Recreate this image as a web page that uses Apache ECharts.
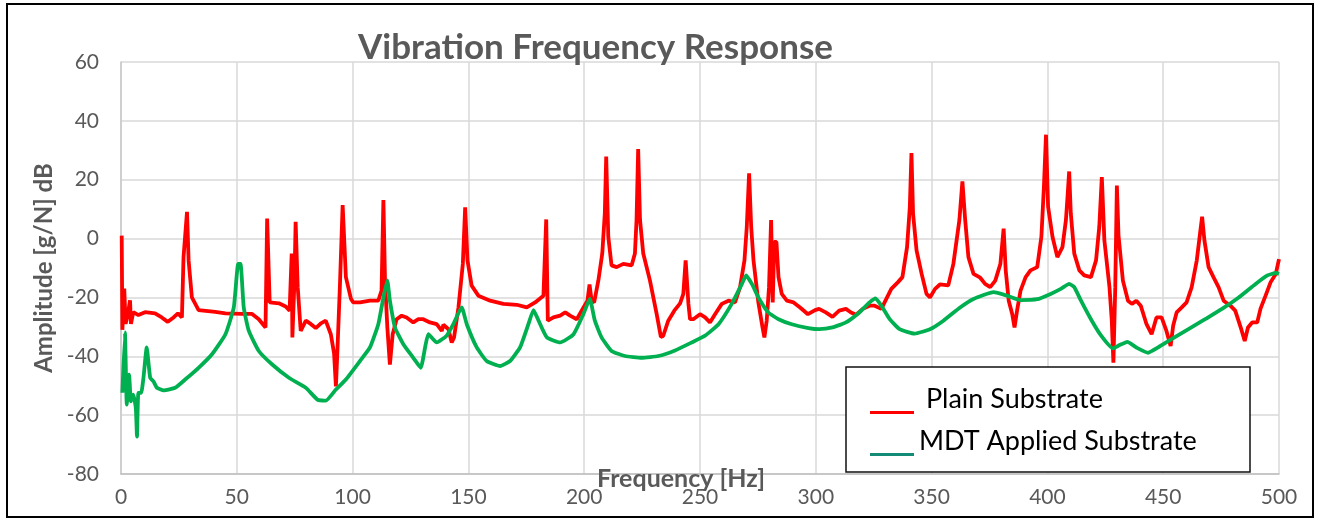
<!DOCTYPE html>
<html><head><meta charset="utf-8">
<script src="https://cdn.jsdelivr.net/npm/echarts@6/dist/echarts.min.js"></script>
<style>html,body{margin:0;padding:0;background:#fff}#c{width:1324px;height:522px}</style>
</head><body><div id="c"></div>
<script>
const xTicks = [0, 50, 100, 150, 200, 250, 300, 350, 400, 450, 500];
const yTicks = [-80, -60, -40, -20, 0, 20, 40, 60];

const plainFreq = [0.3,0.6,1.4,2.0,2.9,3.9,4.3,5.3,7.5,10.4,14.7,17.6,20.2,22.7,24.6,26.3,27.0,27.7,28.5,29.2,30.6,33.5,40.7,45.1,52.3,56.6,59.5,62.4,63.1,64.2,68.2,71.1,72.8,73.7,74.0,74.9,75.4,76.3,77.6,79.8,81.9,84.1,86.3,88.4,90.6,92.0,92.8,93.5,94.5,95.7,97.1,99.3,
100.3,103.2,107.5,111.1,112.5,113.3,114.0,115.0,116.1,117.3,119.0,121.2,123.3,126.2,128.4,130.5,133.4,136.3,138.5,139.2,141.4,142.8,143.8,145.7,147.6,148.6,149.6,151.4,154.3,159.4,165.1,170.9,175.2,178.8,182.4,183.6,184.3,186.7,189.6,191.8,193.9,196.8,199.7,
201.4,202.3,203.2,204.3,206.1,207.8,208.9,209.5,210.4,211.8,214.0,216.9,220.5,221.9,222.6,223.3,224.1,225.5,228.4,231.3,233.1,234.1,236.3,238.9,241.4,242.8,243.8,245.0,245.7,247.1,250.0,252.2,254.3,256.5,259.4,262.3,265.1,267.3,269.2,270.2,271.2,272.1,273.1,275.2,277.0,277.8,278.8,279.8,280.7,281.4,282.1,283.0,283.9,285.3,287.5,290.4,293.2,296.6,299.7,
301.4,304.3,307.2,310.1,313.0,315.2,317.4,320.3,323.2,325.4,328.3,329.7,332.6,335.5,337.4,339.4,340.6,341.3,342.0,343.5,345.7,347.8,349.3,351.5,353.6,357.2,359.4,362.0,363.3,364.5,365.9,368.1,371.0,373.1,375.3,377.5,379.7,381.1,382.0,383.3,384.8,385.8,386.9,388.4,390.6,392.7,395.6,397.4,398.5,399.4,400.3,402.2,404.3,
406.5,408.0,408.7,409.4,410.1,411.6,413.8,415.9,418.8,421.0,422.4,423.5,424.6,426.8,427.8,428.5,429.3,430.0,430.7,432.6,434.8,436.5,438.4,440.3,442.8,445.0,447.1,449.3,451.4,453.2,454.3,455.8,458.0,460.1,462.3,464.5,465.9,466.8,467.8,469.6,471.7,473.9,476.1,479.0,481.1,483.7,485.2,486.6,488.4,490.6,492.0,494.2,496.4,498.6,500];
const plainAmp = [1,-31,-17,-29,-26,-21,-29,-25,-26,-25,-25.4,-26.8,-28.3,-26.8,-25.4,-26.8,-6.3,-6.3,9.1,-7.5,-20,-24.3,-24.9,-25.4,-25.6,-25.6,-27.4,-30.2,6.8,-21.7,-22,-23.1,-24.5,-5.1,-33.6,-14.3,5.7,-16.5,-31.4,-27.9,-29,-30.4,-28.8,-27.9,-32.5,-39,-50.2,-37,-16.5,11.4,-13.1,-20.5,
-21.7,-21.7,-21.1,-21.1,-17.7,13.1,-14.3,-30.2,-42.8,-32.5,-27.4,-26.2,-26.8,-28.5,-27.4,-27.4,-28.5,-29.1,-31.4,-29.3,-30.8,-35.3,-33.6,-23.4,-8.6,10.6,-7.4,-16,-19.4,-21.1,-22.2,-22.5,-23.4,-21.7,-19.4,6.5,-27.9,-26.8,-26.2,-25.1,-26.2,-27.4,-23.4,
-21.1,-15.6,-21.1,-21.7,-14.3,-5.1,8.6,27.9,0.6,-9.1,-9.7,-8.6,-9.1,-5.1,6.3,30.4,6.3,-5.1,-14.3,-25.7,-33.4,-33.1,-27.9,-24.5,-22,-18.8,-7.4,-22.2,-27.4,-27.4,-25.7,-26.8,-28.5,-25.7,-22.2,-21.1,-21.7,-16.5,-7.4,4,22.2,4,-7.4,-21.7,-30.2,-33.6,-27.9,-16.5,6.3,-21.7,-1.1,-1.1,-13.1,-18.8,-21.1,-21.7,-23.4,-25.7,-24.3,
-23.9,-25.1,-26.6,-24.5,-23.9,-25.1,-25.9,-23.9,-22.8,-22.8,-23.9,-21.7,-17.1,-14.8,-13.1,-2.9,10.8,29.1,8.5,-4,-12,-18.8,-20,-17.1,-15.6,-15.9,-8.6,6.3,19.4,6.3,-6.3,-12,-13.3,-15.4,-16.5,-14.3,-8.6,3.4,-10.8,-21.1,-25.6,-30.2,-24.5,-17.7,-13.1,-10.8,-9.7,0.6,17.7,35.3,10.8,0.6,-6.3,
-2.9,6.3,14.3,22.8,8.6,-5.1,-10.8,-12.5,-13.1,-7.4,4,20.9,-0.6,-16.5,-27.9,-42.2,-16.5,18,1.1,-14.3,-21.1,-22.2,-21.1,-22.8,-29.1,-32.5,-26.8,-26.8,-31.4,-36.5,-29.6,-25.1,-23.4,-21.7,-16.5,-7.4,1.7,7.4,-0.6,-9.7,-13.1,-16.5,-21.1,-22.8,-24.5,-30.8,-34.8,-30.2,-28.5,-28.5,-23.9,-19.4,-14.8,-12,-7];

const mdtFreq = [0.6,1.7,2.5,3.5,4.3,5.3,6.4,6.9,7.5,8.7,9.7,11.1,12.6,14.0,15.5,18.4,23.4,27.7,33.5,39.3,45.1,48.7,50.6,51.6,53.0,55.2,59.5,65.3,72.5,79.8,84.8,88.4,92.8,97.1,
103.2,107.5,111.1,113.3,115.0,116.1,118.3,121.9,126.2,129.4,131.3,132.7,136.3,140.6,143.5,147.1,149.3,153.6,157.9,163.7,168.0,172.3,175.9,178.1,180.3,183.9,189.6,195.4,199.7,
202.4,204.6,207.5,211.8,217.6,224.8,232.0,239.2,246.4,252.2,258.0,263.7,268.1,269.9,272.4,275.2,279.5,283.9,289.6,296.8,
301.4,307.2,313.0,318.8,323.2,325.8,328.3,331.9,336.2,342.7,349.3,355.1,362.3,368.1,376.8,382.6,388.4,395.6,401.4,
405.8,409.4,411.6,414.5,418.8,423.2,428.3,431.2,434.5,438.4,443.5,447.8,453.6,460.9,468.1,475.4,482.6,489.9,495.0,498.6,500];
const mdtAmp = [-52.4,-31.9,-56.4,-46.2,-55.3,-53,-57.6,-67.3,-52.4,-52.4,-47.3,-37,-47.3,-48.5,-50.7,-51.6,-50.7,-47.9,-43.9,-39.3,-32.5,-23.4,-8.6,-8.6,-23.4,-31.4,-38.2,-42.8,-47.3,-50.7,-54.7,-55.1,-51.3,-47.9,
-41.6,-37,-29.1,-20,-14.3,-21.1,-30.2,-35.9,-40.5,-43.9,-37,-32.5,-35.3,-33,-29.1,-23.4,-29.1,-37,-41.6,-43.3,-41.6,-37,-29.1,-24.3,-27.9,-33.6,-35.3,-32.5,-25.6,
-20.5,-27.9,-33.6,-38.2,-39.9,-40.5,-39.9,-38,-35.3,-33,-29.1,-22.2,-15.4,-12.5,-15.4,-20,-25.1,-27.4,-29.1,-30.4,
-30.8,-30.2,-28.5,-25.1,-21.7,-20.3,-22.8,-27.4,-30.8,-32.3,-30.8,-27.9,-23.4,-20.5,-18.2,-19.4,-20.9,-20.6,-18.8,
-17.1,-15.4,-16.5,-21.1,-27.4,-33,-37.3,-36.2,-35.1,-37,-38.8,-37,-34.2,-30.8,-27.4,-23.9,-20,-15.4,-12.5,-11.7,-12];

const seriesNames = ['Plain Substrate', 'MDT Applied Substrate'];
const plainData = plainFreq.map((f, i) => [f, plainAmp[i]]);
const mdtData = mdtFreq.map((f, i) => [f, mdtAmp[i]]);

const FONT = 'Lato, "Open Sans", sans-serif';
const chart = echarts.init(document.getElementById('c'), null, {renderer: 'canvas'});
chart.setOption({
  animation: false,
  backgroundColor: '#ffffff',
  title: {
    text: 'Vibration Frequency Response',
    left: 353, top: 25,
    textStyle: {fontSize: 35, fontWeight: 'bold', color: '#595959', fontFamily: FONT}
  },
  grid: {left: 121, right: 45, top: 62, bottom: 48, containLabel: false},
  legend: {
    orient: 'vertical', left: 865, top: 379,
    itemWidth: 44, itemHeight: 30, itemGap: 12,
    icon: 'path://M0,0 M0,27 L44,27 L44,30 L0,30 Z',
    formatter: n => n === seriesNames[0] ? ' ' + n : n,
    textStyle: {fontSize: 27, color: '#000', fontFamily: FONT},
    data: [
      {name: seriesNames[0], itemStyle: {color: '#ff0000'}},
      {name: seriesNames[1], itemStyle: {color: '#138b76'}}
    ],
    z: 20
  },
  xAxis: [{
    type: 'value', min: 0, max: 500, interval: 50,
    axisLine: {show: false}, axisTick: {show: false},
    axisLabel: {margin: 13, fontSize: 21, color: '#595959', fontFamily: FONT},
    splitLine: {show: true, lineStyle: {color: '#d9d9d9', width: 1.5}}
  }, {
    type: 'value', min: 0, max: 500, position: 'bottom',
    axisLine: {show: true, onZero: true, lineStyle: {color: '#bfbfbf', width: 1.5}},
    axisTick: {show: false}, axisLabel: {show: false}, splitLine: {show: false}
  }],
  yAxis: {
    type: 'value', min: -80, max: 60, interval: 20,
    name: 'Amplitude [g/N] dB', nameLocation: 'middle', nameGap: 63,
    nameTextStyle: {fontSize: 24, fontWeight: 'bold', color: '#595959', fontFamily: FONT},
    axisLine: {show: true, lineStyle: {color: '#c8c8c8', width: 1.5}},
    axisTick: {show: false},
    axisLabel: {margin: 22, fontSize: 21, color: '#595959', fontFamily: FONT},
    splitLine: {show: true, lineStyle: {color: '#d9d9d9', width: 1.5}}
  },
  graphic: [
    {type: 'rect', shape: {x: 7, y: 4, width: 1306, height: 513}, style: {fill: 'none', stroke: '#000', lineWidth: 2}, z: 30, silent: true},
    {type: 'rect', shape: {x: 846, y: 367, width: 404, height: 105}, style: {fill: '#fff', stroke: '#111', lineWidth: 1.5}, z: 15, silent: true},
    {type: 'text', left: 597, top: 466, style: {text: 'Frequency [Hz]', font: 'bold 25px ' + FONT, fill: '#595959'}, z: 16}
  ],
  series: [
    {name: seriesNames[0], type: 'line', data: plainData, showSymbol: false, symbol: 'none',
     lineStyle: {color: '#ff0000', width: 3.8}, itemStyle: {color: '#ff0000'}, z: 2},
    {name: seriesNames[1], type: 'line', data: mdtData, showSymbol: false, symbol: 'none', smooth: 0.15,
     lineStyle: {color: '#00b050', width: 3.8}, itemStyle: {color: '#00b050'}, z: 3}
  ]
});
</script>
</body></html>
